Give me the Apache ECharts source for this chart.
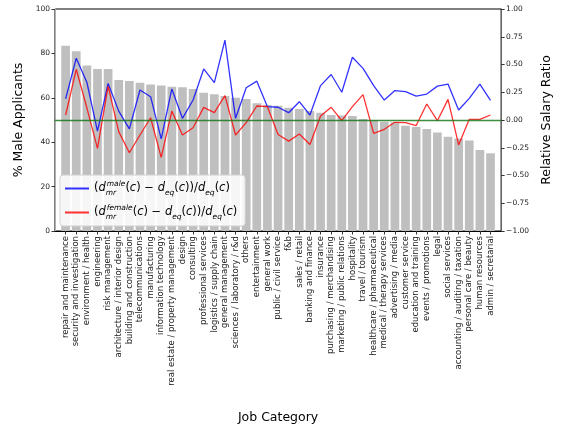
<!DOCTYPE html>
<html>
<head>
<meta charset="utf-8">
<script src="https://cdn.jsdelivr.net/npm/echarts@6/dist/echarts.min.js"></script>
<style>
  html, body { margin: 0; padding: 0; background: #fff; }
  #chart { width: 561px; height: 432px; }
</style>
</head>
<body>
<div id="chart"></div>
<script>
// job categories, sorted by share of male applicants
const categories = [
  'repair and maintenance', 'security and investigation', 'environment / health',
  'engineering', 'risk management', 'architecture / interior design',
  'building and construction', 'telecommunications', 'manufacturing',
  'information technology', 'real estate / property management', 'design',
  'consulting', 'professional services', 'logistics / supply chain',
  'general management', 'sciences / laboratory / r&d', 'others', 'entertainment',
  'general work', 'public / civil service', 'f&b', 'sales / retail',
  'banking and finance', 'insurance', 'purchasing / merchandising',
  'marketing / public relations', 'hospitality', 'travel / tourism',
  'healthcare / pharmaceutical', 'medical / therapy services',
  'advertising / media', 'customer service', 'education and training',
  'events / promotions', 'legal', 'social services',
  'accounting / auditing / taxation', 'personal care / beauty',
  'human resources', 'admin / secretarial'
]

// % male applicants (left axis)
const maleShare = [
  83.5, 81, 74.5, 73, 73, 68, 67.6, 66.8, 66, 65.5,
  65, 64.7, 64, 62.3, 61.6, 60.8, 60, 59.5, 57.5, 56.8,
  56.4, 55.5, 55, 54, 53.3, 52.3, 52, 51.8, 50.5, 50,
  49.2, 49, 47.4, 46.9, 45.9, 44.4, 42.5, 41.7, 40.8, 36.5,
  35
]

// relative salary ratio (right axis)
const maleRatio = [
  0.19, 0.556, 0.34, -0.1, 0.33, 0.08, -0.08, 0.27, 0.21, -0.17,
  0.28, 0.015, 0.18, 0.46, 0.336, 0.72, 0.015, 0.29, 0.35, 0.12,
  0.115, 0.066, 0.165, 0.045, 0.31, 0.41, 0.25, 0.565, 0.465, 0.31,
  0.18, 0.265, 0.255, 0.216, 0.234, 0.305, 0.324, 0.09, 0.195, 0.324,
  0.176
]
const femaleRatio = [
  0.045, 0.457, 0.11, -0.255, 0.306, -0.105, -0.295, -0.135, 0.02, -0.336,
  0.08, -0.135, -0.07, 0.114, 0.066, 0.22, -0.135, -0.024, 0.126, 0.12,
  -0.13, -0.19, -0.126, -0.22, 0.036, 0.114, -0.006, 0.12, 0.228, -0.12,
  -0.084, -0.021, -0.024, -0.05, 0.144, -0.006, 0.186, -0.225, 0.006, 0.006,
  0.045
]

const idx = categories.map((c, i) => i)
const toPairs = arr => arr.map((v, i) => [i, v])

const chart = echarts.init(document.getElementById('chart'))

// mathtext-like legend labels
const base = { fontFamily: 'DejaVu Sans', color: '#000' }
const mathRich = {
  t: Object.assign({ fontSize: 11.5, lineHeight: 17, verticalAlign: 'middle' }, base),
  i: Object.assign({ fontSize: 11.5, fontStyle: 'italic', lineHeight: 17, verticalAlign: 'middle' }, base),
  sup: Object.assign({ fontSize: 7.5, fontStyle: 'italic', lineHeight: 9, verticalAlign: 'top' }, base),
  sub: Object.assign({ fontSize: 7.5, fontStyle: 'italic', lineHeight: 12, verticalAlign: 'bottom' }, base),
  sub0: Object.assign({ fontSize: 7.5, fontStyle: 'italic', lineHeight: 12, verticalAlign: 'bottom', width: 1 }, base)
}
const tail = '{t|(}{i|c}{t|) − }{i|d}{sub|eq}{t|(}{i|c}{t|))/}{i|d}{sub|eq}{t|(}{i|c}{t|)}'

const options = {
  animation: false,
  textStyle: { fontFamily: 'DejaVu Sans' },
  grid: {
    left: 55, right: 51, top: 9, bottom: 201,
    show: true, borderColor: '#000', borderWidth: 1, backgroundColor: 'transparent'
  },
  legend: {
    orient: 'vertical',
    left: 60, top: 175,
    itemWidth: 24, itemHeight: 2, itemGap: 7,
    padding: [5, 8, 5, 5],
    backgroundColor: 'rgba(255,255,255,0.85)',
    borderColor: '#d0d0d0', borderWidth: 1, borderRadius: 3,
    data: [{ name: 'male', icon: 'rect' }, { name: 'female', icon: 'rect' }],
    formatter: name => '{t|(}{i|d}{sub0|mr}{sup|' + name + '}' + tail,
    textStyle: { rich: mathRich }
  },
  xAxis: {
    type: 'value',
    min: -1, max: 41, interval: 1,
    name: 'Job Category',
    nameLocation: 'middle',
    nameGap: 180,
    nameTextStyle: { fontSize: 12.5, color: '#000' },
    splitLine: { show: false },
    axisLine: { onZero: false, lineStyle: { color: '#000' } },
    axisTick: { length: 3.5, customValues: idx, lineStyle: { color: '#333' } },
    axisLabel: {
      customValues: idx,
      rotate: 90, margin: 5,
      fontSize: 8.5, color: '#222',
      formatter: v => categories[v] || ''
    }
  },
  yAxis: [
    {
      type: 'value', min: 0, max: 100, interval: 20,
      name: '% Male Applicants', nameLocation: 'middle', nameGap: 28, nameRotate: 90,
      nameTextStyle: { fontSize: 12.5, color: '#000' },
      splitLine: { show: false },
      axisLine: { show: true, onZero: false, lineStyle: { color: '#b0b0b0' } },
      axisTick: { show: true, length: 3.5, lineStyle: { color: '#333' } },
      axisLabel: { fontSize: 7.5, color: '#222', margin: 5 }
    },
    {
      type: 'value', min: -1, max: 1, interval: 0.25,
      name: 'Relative Salary Ratio', nameLocation: 'middle', nameGap: 38, nameRotate: 90,
      nameTextStyle: { fontSize: 12.5, color: '#000' },
      splitLine: { show: false },
      axisLine: { show: true, onZero: false, lineStyle: { color: '#666' } },
      axisTick: { show: true, length: 3.5, lineStyle: { color: '#333' } },
      axisLabel: {
        fontSize: 7.5, color: '#222', margin: 5,
        formatter: v => (v < 0 ? '−' : '') + Math.abs(v).toFixed(2)
      }
    }
  ],
  series: [
    {
      name: 'share',
      type: 'bar',
      yAxisIndex: 0,
      barWidth: 8.7,
      itemStyle: { color: '#bfbfbf' },
      data: toPairs(maleShare),
      z: 1
    },
    {
      name: 'male',
      type: 'line',
      yAxisIndex: 1,
      symbol: 'none',
      color: 'rgba(0,0,255,0.8)',
      lineStyle: { width: 1.3, color: 'rgba(0,0,255,0.8)' },
      data: toPairs(maleRatio),
      markLine: {
        silent: true,
        symbol: ['none', 'none'],
        label: { show: false },
        lineStyle: { color: '#1a7a1a', width: 1.3, type: 'solid', opacity: 0.85 },
        data: [{ yAxis: 0 }]
      },
      z: 3
    },
    {
      name: 'female',
      type: 'line',
      yAxisIndex: 1,
      symbol: 'none',
      color: 'rgba(255,0,0,0.8)',
      lineStyle: { width: 1.3, color: 'rgba(255,0,0,0.8)' },
      data: toPairs(femaleRatio),
      z: 3
    }
  ]
}
chart.setOption(options)
</script>
</body>
</html>
